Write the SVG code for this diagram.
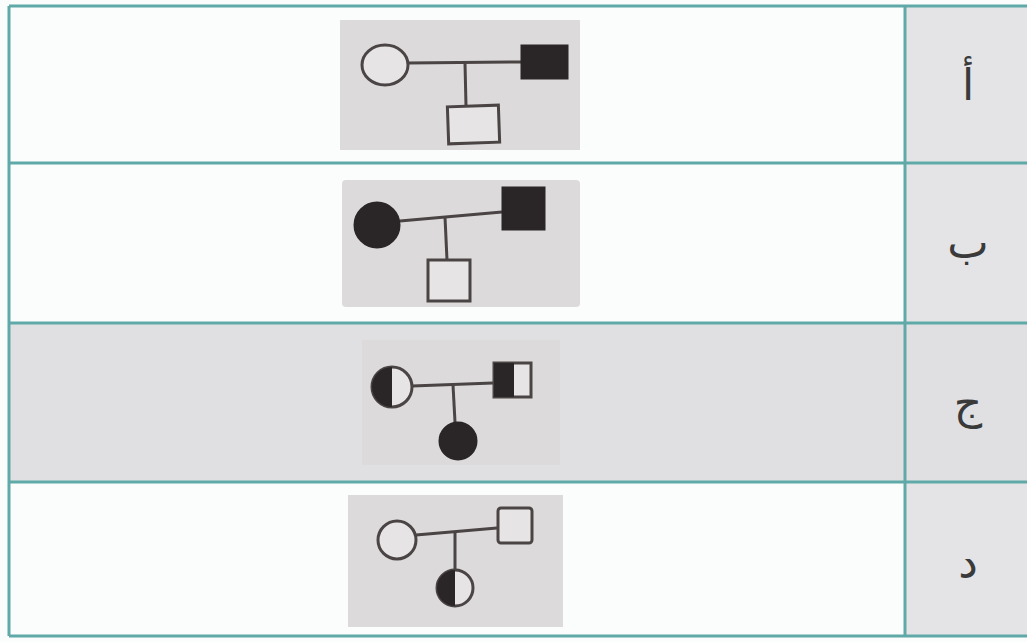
<svg xmlns="http://www.w3.org/2000/svg" width="1027" height="642" viewBox="0 0 1027 642">
<style>
.grid{stroke:#5fa9a8;stroke-width:3;fill:none}
.photo{fill:#dcdadb}
.ln{stroke:#4a4445;stroke-width:3;fill:none}
.open{fill:#e6e4e5;stroke:#4a4445;stroke-width:3}
.full{fill:#2a2527;stroke:#2a2527;stroke-width:3}
.lbl{font-family:"DejaVu Sans",sans-serif;font-size:44px;fill:#3a3a3a;text-anchor:middle}
</style>
<rect x="0" y="0" width="1027" height="642" fill="#fbfdfd"/>
<rect x="905" y="6" width="122" height="630" fill="#e4e4e6"/>
<rect x="9" y="323" width="1018" height="159" fill="#e0e0e2"/>
<g id="grid">
<line class="grid" x1="9" y1="6" x2="1027" y2="6"/>
<line class="grid" x1="9" y1="163" x2="1027" y2="163"/>
<line class="grid" x1="9" y1="323" x2="1027" y2="323"/>
<line class="grid" x1="9" y1="482" x2="1027" y2="482"/>
<line class="grid" x1="9" y1="636" x2="1027" y2="636"/>
<line class="grid" x1="9" y1="6" x2="9" y2="636"/>
<line class="grid" x1="905" y1="6" x2="905" y2="636"/>
</g>
<g id="row-a">
<rect class="photo" x="340" y="20" width="240" height="130"/>
<text class="lbl" x="968" y="100">أ</text>
</g>
<g id="row-b">
<rect class="photo" x="342" y="180" width="238" height="127" rx="4"/>
<text class="lbl" x="968" y="258">ب</text>
</g>
<g id="row-c">
<rect class="photo" x="362" y="340" width="198" height="125"/>
<text class="lbl" x="968" y="418">ج</text>
</g>
<g id="row-d">
<rect class="photo" x="348" y="495" width="215" height="132"/>
<text class="lbl" x="968" y="578">د</text>
</g>
<g id="connectors">
<line class="ln" x1="408" y1="63" x2="522" y2="62"/>
<line class="ln" x1="465" y1="63" x2="466" y2="106"/>
<line class="ln" x1="400" y1="221" x2="502" y2="212"/>
<line class="ln" x1="445" y1="217" x2="447" y2="260"/>
<line class="ln" x1="412" y1="386" x2="493" y2="383"/>
<line class="ln" x1="453" y1="385" x2="455" y2="422"/>
<line class="ln" x1="416" y1="535" x2="497" y2="528"/>
<line class="ln" x1="455" y1="532" x2="455" y2="569"/>
</g>
<g id="a-mother"><ellipse class="open" cx="385" cy="65" rx="23" ry="20"/></g>
<g id="a-father"><rect class="full" x="522" y="46" width="45" height="32"/></g>
<g id="a-child"><rect class="open" x="448" y="106" width="51" height="37" transform="rotate(-2 473 124)"/></g>
<g id="b-mother"><circle class="full" cx="377" cy="225" r="22"/></g>
<g id="b-father"><rect class="full" x="503" y="188" width="41" height="41"/></g>
<g id="b-child"><rect class="open" x="428" y="260" width="42" height="41"/></g>
<g id="c-mother">
<circle class="open" cx="392" cy="387" r="20"/>
<path d="M392 367 A20 20 0 0 0 392 407 Z" fill="#2a2527"/>
</g>
<g id="c-father">
<rect class="open" x="494" y="363" width="37" height="34"/>
<rect x="494" y="363" width="20" height="34" fill="#2a2527"/>
</g>
<g id="c-child"><circle class="full" cx="458" cy="441" r="18"/></g>
<g id="d-mother"><circle class="open" cx="397" cy="540" r="19"/></g>
<g id="d-father"><rect class="open" x="498" y="508" width="34" height="35" rx="3"/></g>
<g id="d-child">
<circle class="open" cx="455" cy="588" r="18"/>
<path d="M455 570 A18 18 0 0 0 455 606 Z" fill="#2a2527"/>
</g>
</svg>
